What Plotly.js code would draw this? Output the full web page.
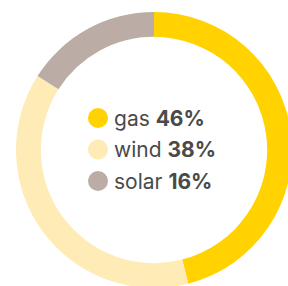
<!DOCTYPE html>
<html><head><meta charset="utf-8">
<script src="https://cdn.plot.ly/plotly-3.0.1.min.js"></script>
<style>html,body{margin:0;padding:0;overflow:hidden;background:#fff;width:288px;height:286px}#c{width:300px;height:300px}</style>
</head><body><div id="c"></div>
<script>
const labels = ["gas", "wind", "solar"];
const values = [46, 38, 16];
const colors = ["#FFD200", "#FFEBB6", "#BBADA6"];

const W = 300, H = 300;
const legX = 98, legY0 = 118, legDy = 31.5, r = 10;
const shapes = [], annotations = [];
labels.forEach((l, i) => {
  const cy = legY0 + i * legDy;
  shapes.push({type: "circle", xref: "paper", yref: "paper",
    x0: (legX - r) / W, x1: (legX + r) / W, y0: 1 - (cy + r) / H, y1: 1 - (cy - r) / H,
    fillcolor: colors[i], line: {width: 0}});
  annotations.push({xref: "paper", yref: "paper", x: (legX + 14) / W, y: 1 - cy / H,
    xanchor: "left", yanchor: "middle", showarrow: false,
    text: l + " <b>" + values[i] + "%</b>",
    font: {family: "Inter, 'Open Sans', sans-serif", size: 21, color: "#4a4a4a"}});
});

Plotly.newPlot("c", [{
  type: "pie", labels: labels, values: values, hole: 0.82, sort: false,
  direction: "clockwise", rotation: 0, textinfo: "none", hoverinfo: "none",
  marker: {colors: colors, line: {width: 0}},
  domain: {x: [16 / W, 292 / W], y: [12 / H, 288 / H]}
}], {
  width: W, height: H, margin: {l: 0, r: 0, t: 0, b: 0},
  showlegend: false, paper_bgcolor: "#fff", shapes: shapes, annotations: annotations
}, {displayModeBar: false, staticPlot: true});
</script></body></html>
